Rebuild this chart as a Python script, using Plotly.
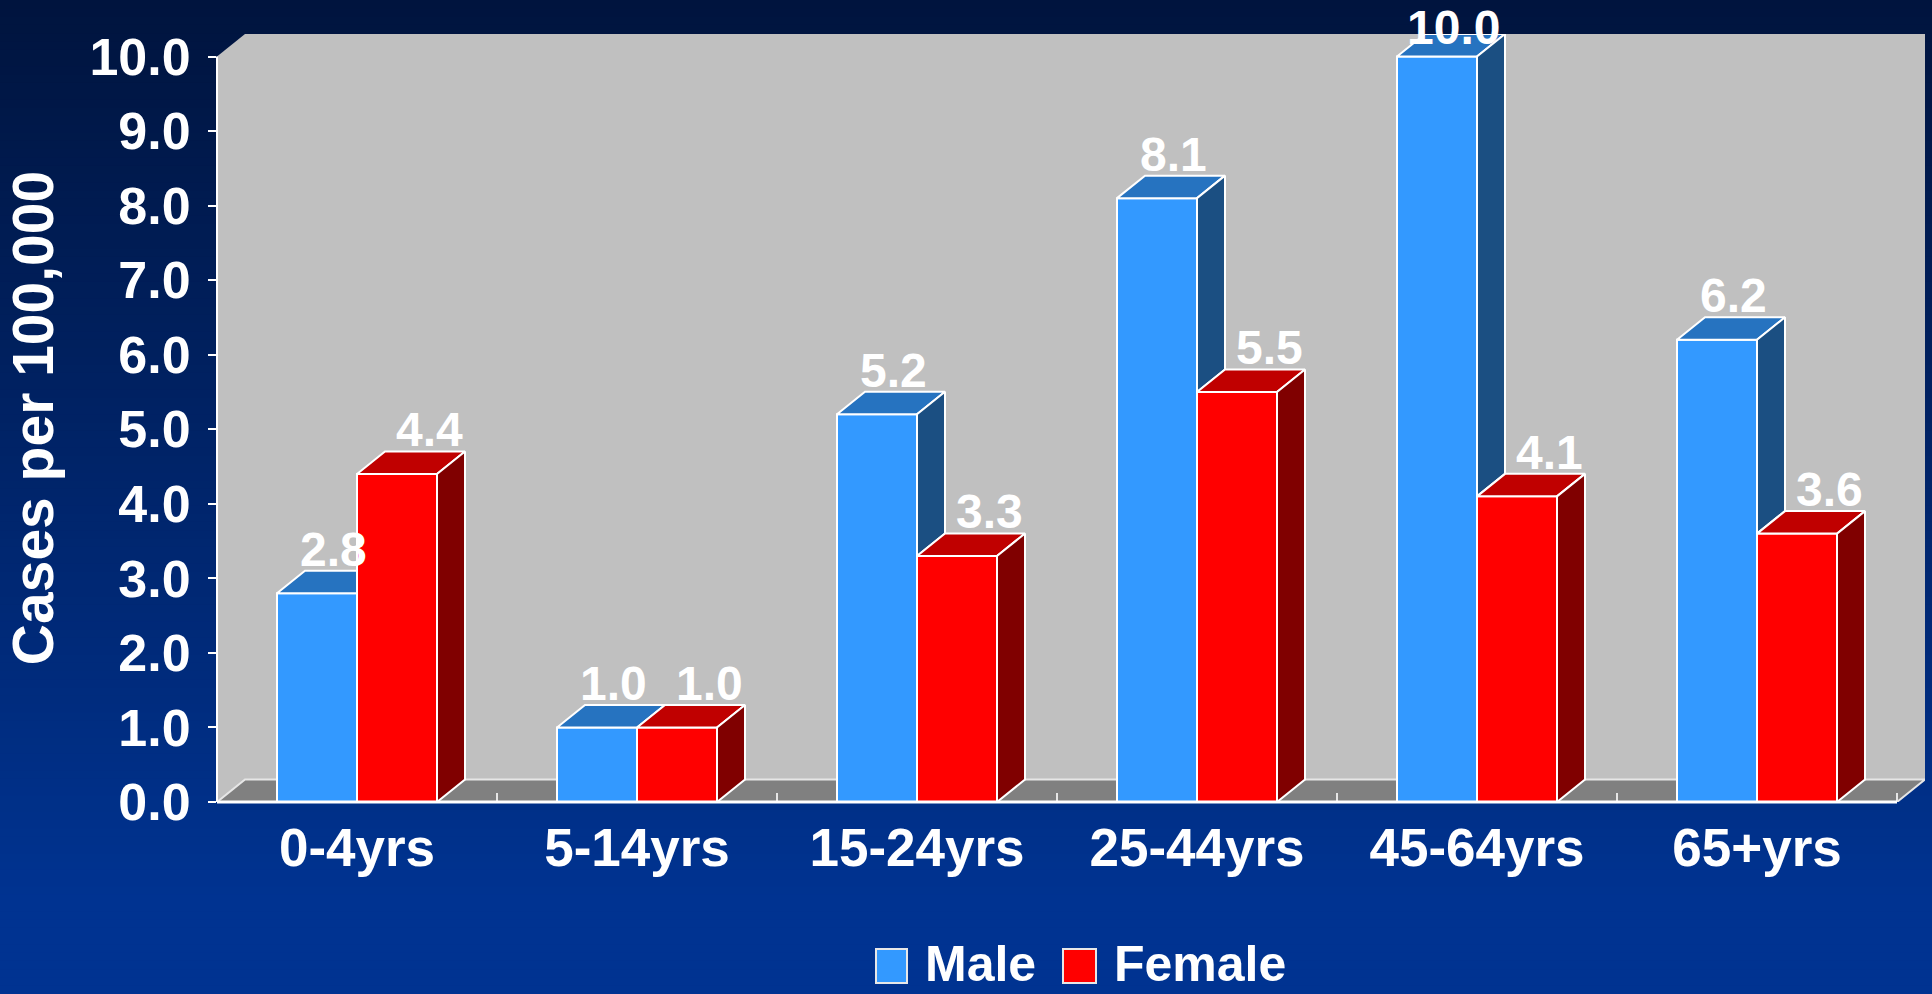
import plotly.graph_objects as go

# ---------------- data ----------------
CATEGORIES = ["0-4yrs", "5-14yrs", "15-24yrs", "25-44yrs", "45-64yrs", "65+yrs"]
MALE = [2.8, 1.0, 5.2, 8.1, 10.0, 6.2]
FEMALE = [4.4, 1.0, 3.3, 5.5, 4.1, 3.6]
Y_TICKS = [0, 1, 2, 3, 4, 5, 6, 7, 8, 9, 10]
Y_TICK_TEXT = ["0.0", "1.0", "2.0", "3.0", "4.0", "5.0", "6.0", "7.0", "8.0", "9.0", "10.0"]
SERIES_NAMES = ["Male", "Female"]
Y_TITLE = "Cases per 100,000"

# ---------------- style / geometry ----------------
W, H = 1932, 994
ML, MR, MT, MB = 217, 7, 34, 192
PW, PH = W - ML - MR, H - MT - MB
DEPTH_X_PX, DEPTH_Y_PX = 28.0, 22.5
N = len(CATEGORIES)
YMAX = Y_TICKS[-1]
CAT_PX = (PW - DEPTH_X_PX) / N
UNIT_PX = (PH - DEPTH_Y_PX) / YMAX
DX = DEPTH_X_PX / CAT_PX
DY = DEPTH_Y_PX / UNIT_PX
BW = 80.0 / CAT_PX

FONT = "Liberation Sans, Arial, sans-serif"
WALL = "#C0C0C0"
FLOOR = "#808080"
EDGE = "white"
COL = {
    "Male": dict(front="#3399FF", top="#2673C0", side="#1B4F82"),
    "Female": dict(front="#FF0000", top="#C00000", side="#800000"),
}

fig = go.Figure()


def paper_x(px):
    return (px - ML) / PW


def paper_y(py):
    return (H - MB - py) / PH


# ---------------- background gradient (paper) ----------------
c0 = (0, 20, 62)
c1 = (0, 51, 145)
shapes = []
NS = 120
for i in range(NS):
    t = i / (NS - 1)
    tt = min(1.0, t * 1.1)
    col = tuple(round(c0[k] + (c1[k] - c0[k]) * tt) for k in range(3))
    y0 = H * i / NS
    y1 = H * (i + 1) / NS + 1
    shapes.append(dict(type="rect", xref="paper", yref="paper", layer="below",
                       x0=paper_x(-2), x1=paper_x(W + 2), y0=paper_y(y1), y1=paper_y(y0 - (2 if i == 0 else 0)),
                       fillcolor="rgb(%d,%d,%d)" % col, line=dict(width=0)))

# ---------------- walls and floor (data coords) ----------------
xl, xr = -0.5, N - 0.5
wall_path = (f"M {xl} 0 L {xl} {YMAX} L {xl+DX} {YMAX+DY} L {xr+DX} {YMAX+DY} "
             f"L {xr+DX} {DY} L {xr} 0 Z")
shapes.append(dict(type="path", xref="x", yref="y", layer="below", path=wall_path,
                   fillcolor=WALL, line=dict(width=0)))
floor_path = f"M {xl} 0 L {xr} 0 L {xr+DX} {DY} L {xl+DX} {DY} Z"
shapes.append(dict(type="path", xref="x", yref="y", layer="below", path=floor_path,
                   fillcolor=FLOOR, line=dict(color="#E6E6E6", width=2)))
for k in range(N):
    xb = k + 0.5
    shapes.append(dict(type="line", xref="x", yref="y", layer="below",
                       x0=xb, x1=xb, y0=0, y1=0.12, line=dict(color="#E6E6E6", width=2)))
shapes.append(dict(type="line", xref="paper", yref="y", layer="above",
                   x0=0, x1=0, y0=0, y1=YMAX, line=dict(color=EDGE, width=2)))
shapes.append(dict(type="line", xref="x", yref="paper", layer="above",
                   x0=xl, x1=xr, y0=0, y1=0, line=dict(color=EDGE, width=3)))

# ---------------- front faces (bars) ----------------
xs = list(range(N))
fig.add_trace(go.Bar(x=xs, y=MALE, width=BW, offset=-BW, name="Male",
                     marker=dict(color=COL["Male"]["front"], line=dict(color=EDGE, width=2)),
                     showlegend=False, hoverinfo="skip"))
fig.add_trace(go.Bar(x=xs, y=FEMALE, width=BW, offset=0, name="Female",
                     marker=dict(color=COL["Female"]["front"], line=dict(color=EDGE, width=2)),
                     showlegend=False, hoverinfo="skip"))


# ---------------- 3D faces ----------------
def poly_trace(polys, fill):
    px, py = [], []
    for p in polys:
        for (a, b) in p:
            px.append(a)
            py.append(b)
        px.append(p[0][0])
        py.append(p[0][1])
        px.append(None)
        py.append(None)
    return go.Scatter(x=px, y=py, mode="lines", fill="toself", fillcolor=fill,
                      line=dict(color=EDGE, width=2), hoverinfo="skip", showlegend=False)


male_top, male_side, fem_top, fem_side = [], [], [], []
for i in range(N):
    v, f = MALE[i], FEMALE[i]
    x0, x1, x2 = i - BW, i, i + BW
    if f >= v + DY:
        male_top.append([(x0, v), (x1, v), (x1, v + DY), (x0 + DX, v + DY)])
    elif f > v:
        fx = x1 + DX * (f - v) / DY
        male_top.append([(x0, v), (x1, v), (x1, f), (fx, f), (x1 + DX, v + DY), (x0 + DX, v + DY)])
    else:
        male_top.append([(x0, v), (x1, v), (x1 + DX, v + DY), (x0 + DX, v + DY)])
    if f < v:
        male_side.append([(x1, f), (x1, v), (x1 + DX, v + DY), (x1 + DX, f + DY)])
    fem_top.append([(x1, f), (x2, f), (x2 + DX, f + DY), (x1 + DX, f + DY)])
    fem_side.append([(x2, 0), (x2, f), (x2 + DX, f + DY), (x2 + DX, DY)])

fig.add_trace(poly_trace(male_top, COL["Male"]["top"]))
if male_side:
    fig.add_trace(poly_trace(male_side, COL["Male"]["side"]))
fig.add_trace(poly_trace(fem_top, COL["Female"]["top"]))
fig.add_trace(poly_trace(fem_side, COL["Female"]["side"]))

# ---------------- data labels ----------------
annotations = []
LABEL_CAP = YMAX + 0.1
for vals, off, shift in ((MALE, -BW / 2, 16), (FEMALE, BW / 2, 32)):
    for i, v in enumerate(vals):
        annotations.append(dict(x=i + off, y=min(v + DY, LABEL_CAP), xref="x", yref="y",
                                text="%.1f" % v, showarrow=False, xanchor="center",
                                yanchor="bottom", xshift=shift, yshift=-7,
                                font=dict(family=FONT, size=48, color="white", weight="bold")))

# ---------------- legend (manual) ----------------
LEG_Y0, LEG_Y1 = 949, 983
leg = [("Male", 876, 907, 923), ("Female", 1063, 1096, 1112)]
for name, sx0, sx1, tx in leg:
    shapes.append(dict(type="rect", xref="paper", yref="paper", layer="above",
                       x0=paper_x(sx0), x1=paper_x(sx1), y0=paper_y(LEG_Y1), y1=paper_y(LEG_Y0),
                       fillcolor=COL[name]["front"], line=dict(color="#E8E8E8", width=2)))
    annotations.append(dict(x=paper_x(tx), y=paper_y(994), xref="paper",
                            yref="paper", text=name, showarrow=False, xanchor="left",
                            yanchor="bottom",
                            font=dict(family=FONT, size=50, color="white", weight="bold")))

fig.update_layout(
    width=W, height=H,
    margin=dict(l=ML, r=MR, t=MT, b=MB, autoexpand=False),
    paper_bgcolor="rgb(0,36,100)",
    plot_bgcolor="rgba(0,0,0,0)",
    barmode="overlay",
    showlegend=False,
    shapes=shapes,
    annotations=annotations,
    xaxis=dict(range=[xl, xr + DX], tickvals=xs, ticktext=CATEGORIES, ticks="",
               showgrid=False, zeroline=False, showline=False, fixedrange=True,
               ticklabelstandoff=10,
               tickfont=dict(family=FONT, size=53, color="white", weight="bold")),
    yaxis=dict(range=[0, YMAX + DY], tickvals=Y_TICKS, ticktext=Y_TICK_TEXT,
               ticks="outside", ticklen=8, tickwidth=2, tickcolor="white",
               showgrid=False, zeroline=False, showline=False, fixedrange=True,
               ticklabelstandoff=7,
               tickfont=dict(family=FONT, size=52, color="white", weight="bold"),
               title=dict(text=Y_TITLE, standoff=17,
                          font=dict(family=FONT, size=57, color="white", weight="bold"))),
)

fig.write_html("out.html", config={"displayModeBar": False},
               post_script="document.body.style.margin='0px';document.body.style.overflow='hidden';")
